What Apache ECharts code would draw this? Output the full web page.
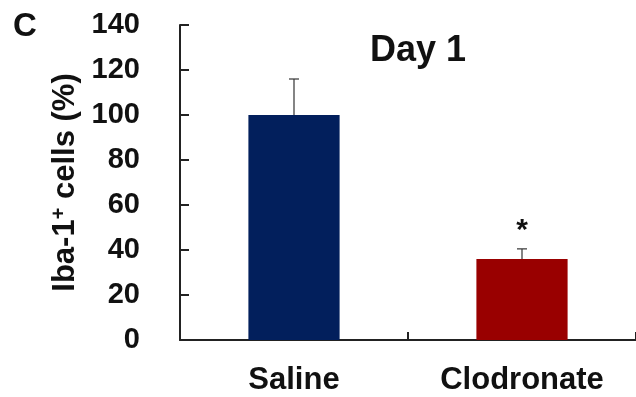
<!DOCTYPE html>
<html><head><meta charset="utf-8">
<script src="https://cdn.jsdelivr.net/npm/echarts@6/dist/echarts.min.js"></script>
<style>html,body{margin:0;padding:0;background:#fff}#c{width:636px;height:397px}</style>
</head><body><div id="c"></div>
<script>
const categories = ['Saline', 'Clodronate'];
const values = [100, 36];
const errors = [16, 4.5];
const significance = ['', '*'];
const colors = ['#021F5C', '#990000'];
const yTicks = {min: 0, max: 140, interval: 20};

const FONT = '"Liberation Sans", Arial, sans-serif';
const chart = echarts.init(document.getElementById('c'), null, {renderer: 'canvas'});
chart.setOption({
  animation: false,
  backgroundColor: '#fff',
  graphic: [{type: 'text', left: 13, top: 10, style: {text: 'C', font: 'bold 33px ' + FONT, fill: '#111'}}],
  title: {text: 'Day 1', left: 413, top: 28, textAlign: 'center',
    textStyle: {fontFamily: FONT, fontWeight: 'bold', fontSize: 36, color: '#111'}},
  grid: {left: 180, right: -4, top: 25, bottom: 57, containLabel: false},
  xAxis: {type: 'category', data: categories,
    axisLine: {lineStyle: {color: '#222', width: 2}},
    axisTick: {show: true, inside: true, alignWithLabel: false, interval: 0, length: 8, lineStyle: {color: '#222', width: 2}},
    axisLabel: {margin: 25, fontFamily: FONT, fontWeight: 'bold', fontSize: 31, color: '#111'}},
  yAxis: {type: 'value', min: yTicks.min, max: yTicks.max, interval: yTicks.interval,
    name: 'Iba-1{sup|+} cells (%)', nameLocation: 'middle', nameGap: 98, nameRotate: 90,
    nameTextStyle: {fontFamily: FONT, fontWeight: 'bold', fontSize: 31, color: '#111',
      rich: {sup: {fontFamily: FONT, fontWeight: 'bold', fontSize: 20, verticalAlign: 'top', padding: [0, 0, 12, 0], color: '#111'}}},
    axisLine: {show: true, lineStyle: {color: '#222', width: 2}},
    axisTick: {show: true, inside: true, length: 9, lineStyle: {color: '#222', width: 2}},
    splitLine: {show: false},
    axisLabel: {margin: 40, fontFamily: FONT, fontWeight: 'bold', fontSize: 29, color: '#111'}},
  series: [
    {type: 'bar', barWidth: '40%',
      data: values.map((v, i) => ({value: v, itemStyle: {color: colors[i]}}))},
    {type: 'custom', z: 3,
      data: values.map((v, i) => [i, v, v + errors[i], significance[i]]),
      renderItem: function (params, api) {
        const base = api.coord([api.value(0), api.value(1)]);
        const top = api.coord([api.value(0), api.value(2)]);
        const cap = 5;
        const children = [
          {type: 'line', shape: {x1: base[0], y1: base[1], x2: top[0], y2: top[1]}, style: {stroke: '#333', lineWidth: 1.2}},
          {type: 'line', shape: {x1: top[0] - cap, y1: top[1], x2: top[0] + cap, y2: top[1]}, style: {stroke: '#333', lineWidth: 1.2}}
        ];
        const s = significance[params.dataIndex];
        if (s) {
          children.push({type: 'text', x: top[0], y: top[1] - 3,
            style: {text: s, font: 'bold 30px ' + FONT, fill: '#111', align: 'center', verticalAlign: 'bottom'}});
        }
        return {type: 'group', children: children};
      }}
  ]
});
</script></body></html>
